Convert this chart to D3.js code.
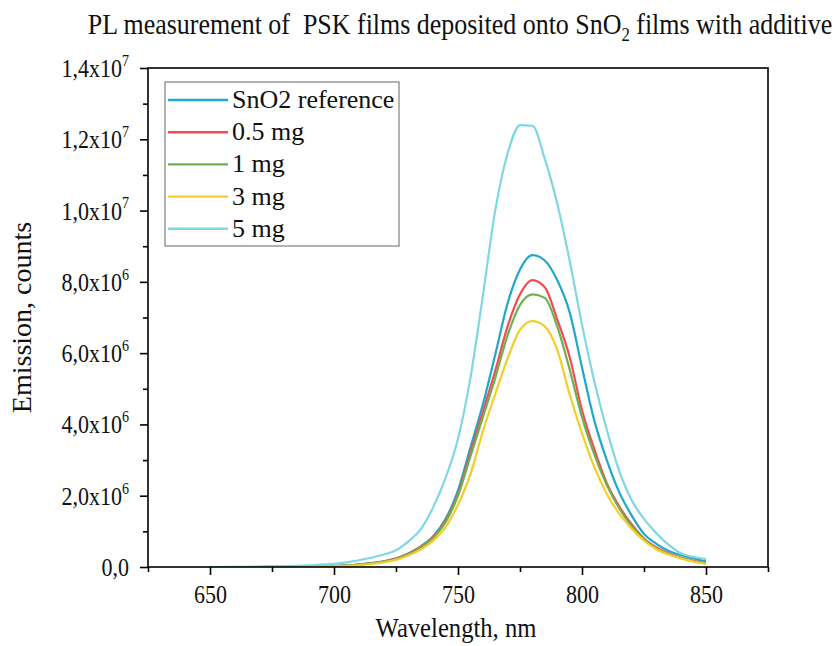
<!DOCTYPE html>
<html>
<head>
<meta charset="utf-8">
<script src="https://cdn.jsdelivr.net/npm/d3@7"></script>
<style>
body { margin: 0; background: #fff; }
svg text { font-family: "Liberation Serif", "Times New Roman", serif; fill: #111; }
</style>
</head>
<body>
<svg id="chart" width="836" height="646"></svg>
<script>
// wavelength grid, nm
const wavelengths = [650,655,660,665,670,675,680,685,690,695,700,705,710,715,720,725,730,735,740,745,750,
  755,760,765,770,775,780,785,790,795,800,805,810,815,820,825,830,835,840,845,850];

// emission in units of 1e6 counts
const sno2Ref = [0,0,0,0,0,0.002,0.004,0.007,0.012,0.02,0.03, 0.045,0.07,0.11,0.16,0.24, 0.38,0.58,0.86,1.35,2.15,
  3.35,4.55,5.95,7.4,8.35, 8.75,8.6,8.05,7.15,5.6, 4.1,3.0,2.1,1.45,0.93, 0.65,0.45,0.33,0.24,0.16];
const mg05 = [0,0,0,0,0,0.002,0.004,0.006,0.011,0.017,0.027, 0.042,0.068,0.105,0.155,0.235, 0.37,0.57,0.84,1.3,2.05,
  3.2,4.35,5.5,6.75,7.65, 8.05,7.85,6.95,5.9,4.4, 3.3,2.35,1.7,1.2,0.8, 0.55,0.38,0.26,0.17,0.1];
const mg1 = [0,0,0,0,0,0.002,0.004,0.006,0.011,0.017,0.026, 0.041,0.066,0.1,0.15,0.225, 0.36,0.55,0.82,1.26,2.0,
  3.1,4.2,5.3,6.5,7.35, 7.65,7.55,6.75,5.55,4.2, 3.15,2.3,1.65,1.15,0.78, 0.52,0.36,0.25,0.16,0.1];
const mg3 = [0,0,0,0,0,0.001,0.003,0.005,0.008,0.013,0.02, 0.033,0.055,0.085,0.13,0.2, 0.32,0.49,0.74,1.12,1.75,
  2.6,3.8,4.85,5.85,6.65, 6.9,6.75,6.1,4.85,3.75, 2.8,2.05,1.5,1.08,0.74, 0.5,0.35,0.24,0.15,0.09];
const mg5 = [0,0,0.004,0.007,0.011,0.016,0.024,0.034,0.048,0.066,0.09, 0.13,0.19,0.26,0.35,0.47, 0.72,1.06,1.68,2.5,3.6,
  5.3,7.6,10.0,11.6,12.4, 12.38,11.45,10.2,8.6,6.8, 5.2,3.85,2.7,1.88,1.35, 0.95,0.62,0.38,0.28,0.22];

const seriesNames = ["SnO2 reference", "0.5 mg", "1 mg", "3 mg", "5 mg"];
const seriesValues = [sno2Ref, mg05, mg1, mg3, mg5];
const seriesColors = ["#1fa8cb", "#f24b55", "#6fb04e", "#f5cd2a", "#7fd7e2"];

const xTicks = [650, 700, 750, 800, 850];
const xMinorTicks = [625, 675, 725, 775, 825, 875];
const yTicks = [0, 2, 4, 6, 8, 10, 12, 14];
const yMinorTicks = [1, 3, 5, 7, 9, 11, 13];

const svg = d3.select("#chart");
const plot = { left: 148, right: 768, top: 68, bottom: 567 };
const squeeze = 0.88; // the source text is a little narrow

const x = d3.scaleLinear().domain([625, 875]).range([plot.left, plot.right]);
const y = d3.scaleLinear().domain([0, 14]).range([plot.bottom, plot.top]);

// title
const title = svg.append("g").attr("transform", `translate(460,34) scale(${squeeze},1)`)
  .append("text")
  .attr("text-anchor", "middle")
  .style("font-size", "29.5px")
  .style("white-space", "pre");
title.append("tspan").text("PL measurement of  PSK films deposited onto SnO");
title.append("tspan").text("2").style("font-size", "19px").attr("dy", 7);
title.append("tspan").text(" films with additive").attr("dy", -7);

// curves
svg.append("clipPath").attr("id", "clip").append("rect")
  .attr("x", plot.left).attr("y", plot.top)
  .attr("width", plot.right - plot.left).attr("height", plot.bottom - plot.top);

const line = d3.line()
  .x(d => x(d[0]))
  .y(d => y(d[1]))
  .curve(d3.curveMonotoneX);

svg.append("g").attr("clip-path", "url(#clip)")
  .selectAll("path")
  .data(seriesValues)
  .enter()
  .append("path")
  .attr("d", vals => line(vals.map((v, i) => [wavelengths[i], v])))
  .attr("fill", "none")
  .attr("stroke", (d, i) => seriesColors[i])
  .attr("stroke-width", 2.2)
  .attr("stroke-linejoin", "round");

// frame
svg.append("rect")
  .attr("x", plot.left).attr("y", plot.top)
  .attr("width", plot.right - plot.left).attr("height", plot.bottom - plot.top)
  .attr("fill", "none").attr("stroke", "#000").attr("stroke-width", 1.6);

// x axis
const xAxisG = svg.append("g").attr("transform", `translate(0,${plot.bottom})`)
  .call(d3.axisBottom(x).tickValues(xTicks).tickSize(8).tickSizeOuter(0));
svg.append("g").attr("transform", `translate(0,${plot.bottom})`)
  .call(d3.axisBottom(x).tickValues(xMinorTicks).tickSize(5).tickFormat(""));
// y axis
const yAxisG = svg.append("g").attr("transform", `translate(${plot.left},0)`)
  .call(d3.axisLeft(y).tickValues(yTicks).tickSize(8).tickSizeOuter(0));
svg.append("g").attr("transform", `translate(${plot.left},0)`)
  .call(d3.axisLeft(y).tickValues(yMinorTicks).tickSize(5).tickFormat(""));

svg.selectAll(".domain").remove();
svg.selectAll(".tick line").attr("stroke", "#000").attr("stroke-width", 1.6);

xAxisG.selectAll(".tick text")
  .attr("y", 36).attr("dy", 0)
  .attr("transform", `scale(${squeeze},1)`)
  .style("font-size", "25px");

yAxisG.selectAll(".tick text").each(function(d) {
  const t = d3.select(this).text("").attr("x", -21.5).attr("dy", "0.34em")
    .attr("transform", `scale(${squeeze},1)`)
    .style("font-size", "25px");
  if (d === 0) { t.text("0,0"); return; }
  const exp = Math.floor(Math.log10(d * 1e6));
  const mant = (d * 1e6 / Math.pow(10, exp)).toFixed(1).replace(".", ",");
  t.append("tspan").text(mant + "x10");
  t.append("tspan").text(exp).style("font-size", "16px").attr("dy", "-0.7em");
});

// axis labels
svg.append("text")
  .attr("transform", `translate(31,${(plot.top + plot.bottom) / 2}) rotate(-90)`)
  .attr("text-anchor", "middle")
  .style("font-size", "28px")
  .text("Emission, counts");
svg.append("g").attr("transform", `translate(456,637) scale(${squeeze},1)`)
  .append("text")
  .attr("text-anchor", "middle")
  .style("font-size", "28px")
  .text("Wavelength, nm");

// legend
const legend = svg.append("g").attr("transform", "translate(165,82)");
legend.append("rect").attr("width", 234).attr("height", 164)
  .attr("fill", "#fff").attr("stroke", "#666").attr("stroke-width", 1);
const rows = legend.selectAll(".row").data(seriesNames).enter().append("g")
  .attr("class", "row")
  .attr("transform", (d, i) => `translate(0,${18 + i * 32.2})`);
rows.append("line").attr("x1", 3).attr("x2", 63)
  .attr("stroke", (d, i) => seriesColors[i]).attr("stroke-width", 2.4);
rows.append("text").attr("x", 67).attr("y", 8)
  .style("font-size", "26px").text(d => d);
</script>
</body>
</html>
